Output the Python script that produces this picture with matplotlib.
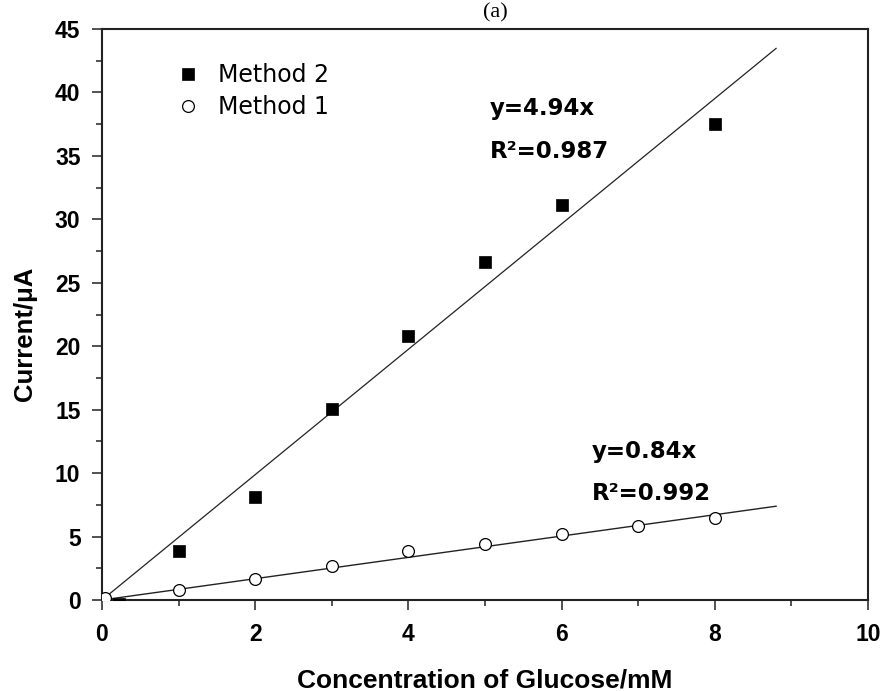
import matplotlib
matplotlib.use("Agg")
import matplotlib.pyplot as plt
import numpy as np

# ---- data ----
conc_m2 = [0.22, 1, 2, 3, 4, 5, 6, 8]
current_m2 = [-0.3, 3.86, 8.1, 15.05, 20.8, 26.6, 31.1, 37.5]
conc_m1 = [0.04, 1, 2, 3, 4, 5, 6, 7, 8]
current_m1 = [0.15, 0.8, 1.65, 2.7, 3.9, 4.4, 5.2, 5.8, 6.5]
slope_m2, r2_m2 = 4.94, 0.987
slope_m1, r2_m1 = 0.84, 0.992
fit_range = [0.05, 8.8]
series_labels = ["Method 2", "Method 1"]
x_label = "Concentration of Glucose/mM"
y_label = "Current/\u03bcA"
panel_title = "(a)"
x_ticks = [0, 2, 4, 6, 8, 10]
y_ticks = [0, 5, 10, 15, 20, 25, 30, 35, 40, 45]

W, H = 883, 691
fig = plt.figure(figsize=(W / 100, H / 100), dpi=100)
L, R, T, B = 102, 868, 29, 600
ax = fig.add_axes([L / W, 1 - B / H, (R - L) / W, (B - T) / H])

ax.set_xlim(0, 10)
ax.set_ylim(0, 45)

# fit lines
fx = np.array(fit_range)
ax.plot(fx, slope_m2 * fx, color="#222222", lw=0.9, zorder=2)
ax.plot(fx, slope_m1 * fx, color="#222222", lw=1.0, zorder=2)

# data points
ax.plot(conc_m2, current_m2, ls="none", marker="s", ms=8.3, mfc="black",
        mec="black", mew=0.5, label=series_labels[0], zorder=3)
ax.plot(conc_m1, current_m1, ls="none", marker="o", ms=8.5, mfc="white",
        mec="black", mew=0.9, label=series_labels[1], zorder=3)

# axes styling
for s in ax.spines.values():
    s.set_linewidth(1.5)
    s.set_color("#222222")
ax.set_xticks(x_ticks)
ax.set_yticks(y_ticks)
ax.set_xticks(np.arange(1, 10, 2), minor=True)
ax.set_yticks(np.arange(2.5, 45, 5), minor=True)
ax.tick_params(which="major", direction="out", length=7.5, width=1.1,
               color="#222222", top=False, right=False)
ax.tick_params(which="minor", direction="out", length=4.5, width=1.1,
               color="#222222", top=False, right=False)
ax.tick_params(axis="y", which="major", pad=8)
ax.tick_params(axis="x", which="major", pad=9)
for lab in ax.get_xticklabels() + ax.get_yticklabels():
    lab.set_fontfamily("Liberation Sans")
    lab.set_fontweight("bold")
    lab.set_fontsize(16.5)

ax.set_xlabel(x_label, fontfamily="Liberation Sans", fontweight="bold",
              fontsize=19)
ax.xaxis.label.set_va("baseline")
ax.xaxis.set_label_coords(0.5, (B - 687) / (B - T))
ax.set_ylabel(y_label, fontfamily="Liberation Sans", fontweight="bold",
              fontsize=18.5)
ax.yaxis.label.set_va("center")
ax.yaxis.set_label_coords((24.5 - L) / (R - L), (B - 334) / (B - T))

# legend
fs_leg = 17
leg = ax.legend(loc="upper left",
                bbox_to_anchor=(178.6 / W, 1 - 63 / H),
                bbox_transform=fig.transFigure,
                frameon=False, borderpad=0, borderaxespad=0,
                handlelength=0.8, handletextpad=0.87, labelspacing=0.36,
                prop={"family": "DejaVu Sans", "size": fs_leg})

# fit annotations
ann = dict(family="DejaVu Sans", fontweight="bold", fontsize=16.5,
           ha="left", va="baseline", transform=ax.transAxes)
ax.text((490 - L) / (R - L), (B - 115) / (B - T), f"y={slope_m2:.2f}x", **ann)
ax.text((490 - L) / (R - L), (B - 158) / (B - T), f"R\u00b2={r2_m2:.3f}", **ann)
ax.text((592 - L) / (R - L), (B - 458) / (B - T), f"y={slope_m1:.2f}x", **ann)
ax.text((592 - L) / (R - L), (B - 500) / (B - T), f"R\u00b2={r2_m1:.3f}", **ann)

# panel title
fig.text(495 / W, 1 - 17 / H, panel_title, family="Liberation Serif",
         fontsize=16, ha="center", va="baseline")

fig.savefig("out.png", dpi=100)
